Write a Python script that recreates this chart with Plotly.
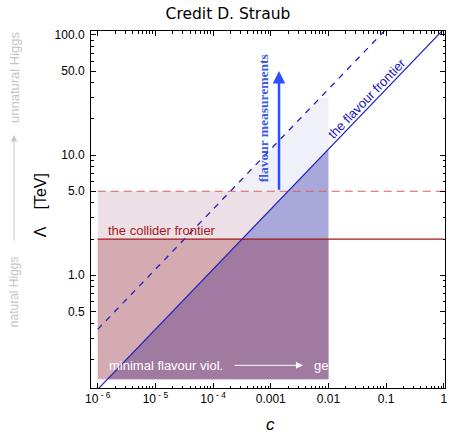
import numpy as np
import plotly.graph_objects as go

# ---- data ----
k_flavour = 112.0          # Lambda = k * sqrt(c)  [TeV]
dashed_factor = 10.0       # dashed line: Lambda = k * sqrt(10 c)
c_min = 1e-6
c_max = 1.0
c_region_max = 0.01
lam_bottom = 0.136
lam_collider = 2.0
lam_collider_future = 5.0
lam_flavour_top = 30.0
lam_arrow_top = 50.0

x_tickvals = [1e-6, 1e-5, 1e-4, 1e-3, 1e-2, 1e-1, 1]
x_ticktext = ["10<sup> - 6</sup>", "10<sup> - 5</sup>", "10<sup> - 4</sup>", "0.001", "0.01", "0.1", "1"]
y_tickvals = [0.5, 1, 5, 10, 50, 100]
y_ticktext = ["0.5", "1.0", "5.0", "10.0", "50.0", "100.0"]


def lam_solid(c):
    return k_flavour * np.sqrt(c)


def c_solid(lam):
    return (lam / k_flavour) ** 2


def lam_dashed(c):
    return k_flavour * np.sqrt(dashed_factor * c)


def c_dashed(lam):
    return (lam / k_flavour) ** 2 / dashed_factor


FONT = "Liberation Sans"
fig = go.Figure()


def poly(xs, ys, color):
    fig.add_trace(go.Scatter(x=xs, y=ys, fill="toself", fillcolor=color, mode="lines",
                             line=dict(width=0, color=color), hoverinfo="skip", showlegend=False))


# light lavender band (flavour measurements reach)
poly([c_dashed(lam_collider_future), c_dashed(lam_flavour_top), c_region_max, c_region_max],
     [lam_collider_future, lam_flavour_top, lam_flavour_top, lam_collider_future], "#eff0f8")
# light pink (future collider)
poly([c_min, c_min, c_region_max, c_region_max],
     [lam_collider, lam_collider_future, lam_collider_future, lam_collider], "#ecdfe5")
# dusty pink (collider)
poly([c_min, c_min, c_region_max, c_region_max],
     [lam_bottom, lam_collider, lam_collider, lam_bottom], "#d5abb2")
# medium blue (flavour excluded)
poly([c_solid(lam_collider), c_region_max, c_region_max],
     [lam_collider, lam_solid(c_region_max), lam_collider], "#a8a8da")
# purple (both)
poly([c_solid(lam_bottom), c_solid(lam_collider), c_region_max, c_region_max],
     [lam_bottom, lam_collider, lam_collider, lam_bottom], "#a07aa1")

# horizontal lines
fig.add_trace(go.Scatter(x=[c_min, c_max], y=[lam_collider_future] * 2, mode="lines",
                         line=dict(color="#e25a5a", width=1.2, dash="8px,5px"),
                         hoverinfo="skip", showlegend=False))
fig.add_trace(go.Scatter(x=[c_min, c_max], y=[lam_collider] * 2, mode="lines",
                         line=dict(color="#a01818", width=1.2),
                         hoverinfo="skip", showlegend=False))
# diagonal lines
fig.add_trace(go.Scatter(x=[c_min, c_max], y=[lam_solid(c_min), lam_solid(c_max)], mode="lines",
                         line=dict(color="#2020c0", width=1.2), hoverinfo="skip", showlegend=False))
fig.add_trace(go.Scatter(x=[c_min, c_max], y=[lam_dashed(c_min), lam_dashed(c_max)], mode="lines",
                         line=dict(color="#2020c0", width=1.3, dash="6px,6px"),
                         hoverinfo="skip", showlegend=False))

L = np.log10
C = dict(xanchor="center", yanchor="middle")
ann = []
# flavour arrow
arrow_c = 1.39e-3
ann.append(dict(x=L(arrow_c), y=L(lam_arrow_top), ax=L(arrow_c), ay=L(lam_collider_future),
                xref="x", yref="y", axref="x", ayref="y", text="", showarrow=True,
                arrowhead=2, arrowsize=1.0, arrowwidth=2.5, arrowcolor="#2a50ff"))
ann.append(dict(x=-3.13, y=1.308, xref="x", yref="y", text="<b>flavour measurements</b>",
                textangle=-90, showarrow=False, **C,
                font=dict(family="Liberation Serif", size=13.5, color="#3a5ae8")))
ann.append(dict(x=-1.338, y=1.4725, xref="x", yref="y", text="the flavour frontier",
                textangle=-46.1, showarrow=False, **C,
                font=dict(family=FONT, size=13, color="#2020b8")))
ann.append(dict(x=-5.856, y=0.375, xref="x", yref="y", text="the collider frontier",
                xanchor="left", yanchor="middle", showarrow=False,
                font=dict(family=FONT, size=13, color="#a81a1a")))
ann.append(dict(x=-5.839, y=-0.75, xref="x", yref="y", text="minimal flavour viol.",
                xanchor="left", yanchor="middle", showarrow=False,
                font=dict(family=FONT, size=13, color="white")))
ann.append(dict(x=-2.442, y=-0.75, ax=-3.655, ay=-0.75, xref="x", yref="y", axref="x", ayref="y",
                text="", showarrow=True, arrowhead=2, arrowsize=1.4, arrowwidth=1,
                arrowcolor="white"))
ann.append(dict(x=-2.286, y=-0.75, xref="x", yref="y", text="gen",
                xanchor="left", yanchor="middle", showarrow=False,
                font=dict(family=FONT, size=13, color="white")))
# left side labels
ann.append(dict(x=(14 - 91) / 354, y=(387.7 - 292) / 356.7, xref="paper", yref="paper",
                text="natural Higgs", textangle=-90, showarrow=False, **C,
                font=dict(family=FONT, size=12, color="#c4c4c4")))
ann.append(dict(x=(14 - 91) / 354, y=(387.7 - 77) / 356.7, xref="paper", yref="paper",
                text="unnatural Higgs", textangle=-90, showarrow=False, **C,
                font=dict(family=FONT, size=13, color="#c4c4c4")))
ann.append(dict(x=(14 - 91) / 354, y=(387.7 - 135) / 356.7, ax=0, ay=107, xref="paper", yref="paper",
                text="", showarrow=True, arrowhead=2, arrowsize=1.3, arrowwidth=1,
                arrowcolor="#c8c8c8"))
# axis titles
ann.append(dict(x=(40 - 91) / 354, y=(387.7 - 205) / 356.7, xref="paper", yref="paper",
                text="Λ    [TeV]", textangle=-90, showarrow=False, **C,
                font=dict(family=FONT, size=16, color="black")))
ann.append(dict(x=(270 - 91) / 354, y=(387.7 - 435.5) / 356.7, xref="paper", yref="paper",
                text="<i>c</i>", showarrow=False, xanchor="center", yanchor="bottom",
                font=dict(family=FONT, size=17, color="black")))

x_minor = [m * 10.0 ** e for e in range(-6, 0) for m in range(2, 10)]
y_minor = [m * 10.0 ** e for e in range(-1, 2) for m in range(2, 10) if m != 5]

fig.update_layout(
    width=450, height=436,
    margin=dict(l=91, r=5, t=31, b=48, autoexpand=False),
    paper_bgcolor="white", plot_bgcolor="white",
    title=dict(text="Credit D. Straub", x=228 / 450, xanchor="center", y=1 - 14 / 436,
               yanchor="middle", font=dict(family="DejaVu Sans", size=15.5, color="black")),
    annotations=ann,
    xaxis=dict(type="log", range=[-6.116, 0.02], tickmode="array", tickvals=x_tickvals,
               ticktext=x_ticktext, ticks="inside", ticklen=5, tickcolor="black",
               showline=True, linecolor="black", linewidth=1, mirror="allticks",
               showgrid=False, zeroline=False, automargin=False,
               tickfont=dict(family=FONT, size=12, color="black"),
               minor=dict(tickmode="array", tickvals=x_minor, ticks="inside", ticklen=2.5,
                          tickcolor="black", showgrid=False)),
    yaxis=dict(type="log", range=[-0.939, 2.033], tickmode="array", tickvals=y_tickvals,
               ticktext=y_ticktext, ticks="inside", ticklen=5, tickcolor="black",
               showline=True, linecolor="black", linewidth=1, mirror="allticks",
               showgrid=False, zeroline=False, automargin=False, ticklabelstandoff=3,
               tickfont=dict(family=FONT, size=12, color="black"),
               minor=dict(tickmode="array", tickvals=y_minor, ticks="inside", ticklen=2.5,
                          tickcolor="black", showgrid=False)),
)

fig.write_html("out.html", config={"displayModeBar": False},
               post_script="document.body.style.margin='0';")
